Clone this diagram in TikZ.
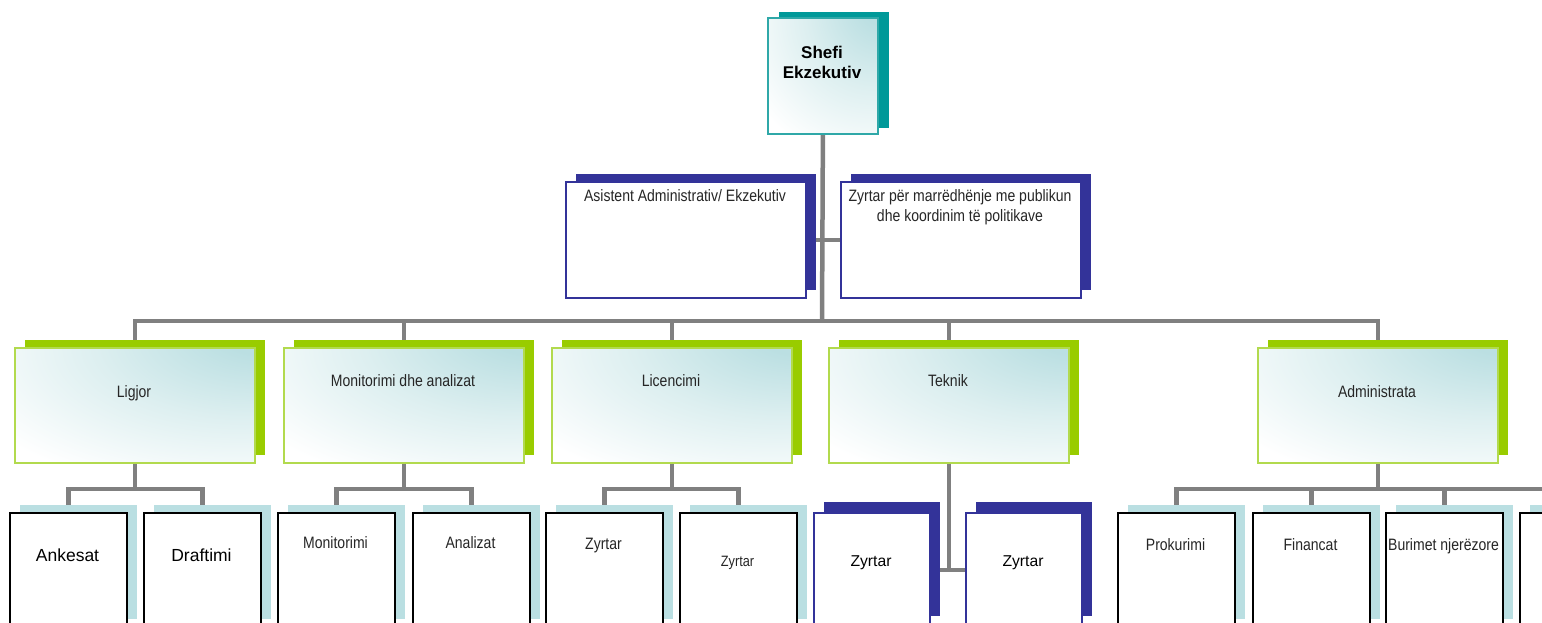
\documentclass[tikz,border=0pt]{standalone}
\usepackage{fontspec}
\setmainfont{Liberation Sans}
\newfontfamily\narrowsans[FakeStretch=0.85]{Liberation Sans}
\usetikzlibrary{shadows,backgrounds}
\definecolor{connC}{HTML}{808080}
\definecolor{tealC}{HTML}{009999}
\definecolor{tealB}{HTML}{2FA8A8}
\definecolor{blueC}{HTML}{333399}
\definecolor{greenC}{HTML}{99CC00}
\definecolor{greenB}{HTML}{B2DA4E}
\definecolor{cyanS}{HTML}{BADFE2}
\definecolor{gradC}{HTML}{BBDFE2}
\definecolor{gradM}{HTML}{DDEFF0}
\pgfdeclareradialshading{cornerglow}{\pgfpoint{30bp}{34bp}}{%
  color(0bp)=(gradC); color(10bp)=(gradC); color(32bp)=(gradM); color(58bp)=(white); color(150bp)=(white)}
\tikzset{
  box/.style={rectangle, inner sep=0pt, anchor=north west},
  grad/.style={shade, shading=cornerglow},
  ceobox/.style={box, grad, draw=tealB, line width=1.8pt, minimum width=110, minimum height=116,
    drop shadow={shadow xshift=11pt, shadow yshift=6pt, opacity=1, fill=tealC}},
  asstbox/.style={box, fill=white, draw=blueC, line width=1.6pt, minimum width=240, minimum height=116,
    drop shadow={shadow xshift=10pt, shadow yshift=8pt, opacity=1, fill=blueC}},
  deptbox/.style={box, grad, draw=greenB, line width=1.9pt, minimum width=240, minimum height=115,
    drop shadow={shadow xshift=10pt, shadow yshift=8pt, opacity=1, fill=greenC}},
  leafbox/.style={box, fill=white, draw=black, line width=1.8pt, minimum width=117, minimum height=114,
    drop shadow={shadow xshift=10pt, shadow yshift=8pt, opacity=1, fill=cyanS}},
  techbox/.style={box, fill=white, draw=blueC, line width=1.6pt, minimum width=116, minimum height=114,
    drop shadow={shadow xshift=10pt, shadow yshift=11pt, opacity=1, fill=blueC}},
  conn/.style={draw=connC, line width=4.5pt},
  lbl/.style={anchor=base, inner sep=0pt, text=black!85, font=\narrowsans\fontsize{16.5}{20}\selectfont, align=center},
  lblsmall/.style={lbl, font=\narrowsans\fontsize{15}{18}\selectfont},
  lblreg/.style={anchor=base, inner sep=0pt, font=\fontsize{17.5}{21}\selectfont},
  lbltech/.style={anchor=base, inner sep=0pt, font=\fontsize{15.7}{19}\selectfont},
  lblceo/.style={anchor=base, inner sep=0pt, align=center, font=\bfseries\fontsize{17}{20.5}\selectfont},
}
\begin{document}
\begin{tikzpicture}[x=1pt, y=-1pt]
\useasboundingbox (0,0) rectangle (1542,623);

% top
\node[ceobox] (ceo) at (767,17) {};
\node[lblceo] (ceoT) at (822,79) {Shefi\\Ekzekutiv};

% staff
\node[asstbox] (asst) at (565,181) {};
\node[lbl] (asstT) at (685,201) {Asistent Administrativ/ Ekzekutiv};
\node[asstbox] (pr) at (840,181) {};
\node[lbl] (prT) at (960,221) {Zyrtar për marrëdhënje me publikun\\dhe koordinim të politikave};

% departments
\node[deptbox] (lig) at (14,347) {};
\node[lbl] (ligT) at (134,397) {Ligjor};
\node[deptbox] (mon) at (283,347) {};
\node[lbl] (monT) at (403,386) {Monitorimi dhe analizat};
\node[deptbox] (lic) at (551,347) {};
\node[lbl] (licT) at (671,386) {Licencimi};
\node[deptbox] (tek) at (828,347) {};
\node[lbl] (tekT) at (948,386) {Teknik};
\node[deptbox] (adm) at (1257,347) {};
\node[lbl] (admT) at (1377,397) {Administrata};

% units
\node[leafbox] (ank) at (9,512) {};
\node[lblreg] (ankT) at (67.5,561) {Ankesat};
\node[leafbox] (dra) at (143,512) {};
\node[lblreg] (draT) at (201.5,561) {Draftimi};
\node[leafbox] (mni) at (277,512) {};
\node[lbl] (mniT) at (335.5,548) {Monitorimi};
\node[leafbox] (ana) at (412,512) {};
\node[lbl] (anaT) at (470.5,548) {Analizat};
\node[leafbox] (zy1) at (545,512) {};
\node[lbl] (zy1T) at (603.5,549) {Zyrtar};
\node[leafbox] (zy2) at (679,512) {};
\node[lblsmall] (zy2T) at (737.5,566) {Zyrtar};
\node[techbox] (tz1) at (813,512) {};
\node[lbltech] (tz1T) at (871,566) {Zyrtar};
\node[techbox] (tz2) at (965,512) {};
\node[lbltech] (tz2T) at (1023,566) {Zyrtar};
\node[leafbox] (pro) at (1117,512) {};
\node[lbl] (proT) at (1175.5,550) {Prokurimi};
\node[leafbox] (fin) at (1252,512) {};
\node[lbl] (finT) at (1310.5,550) {Financat};
\node[leafbox] (bur) at (1385,512) {};
\node[lbl] (burT) at (1443.5,550) {Burimet njerëzore};
\node[leafbox] (oth) at (1519,512) {};

% connectors
\begin{scope}[on background layer]
\coordinate (bus) at (822,321);
\draw[conn] (ceo.south) -- (bus);
\draw[conn] (asst.east) -- (pr.west);
\foreach \d in {lig,mon,lic,tek,adm}{\draw[conn] (\d.north) |- (bus);}
\draw[conn] (lig.south) -- ++(0,25) -| (ank.north);
\draw[conn] (lig.south) -- ++(0,25) -| (dra.north);
\draw[conn] (mon.south) -- ++(0,25) -| (mni.north);
\draw[conn] (mon.south) -- ++(0,25) -| (ana.north);
\draw[conn] (lic.south) -- ++(0,25) -| (zy1.north);
\draw[conn] (lic.south) -- ++(0,25) -| (zy2.north);
\draw[conn] (tek.south) |- (tz1.east);
\draw[conn] (tek.south) |- (tz2.west);
\foreach \u in {pro,fin,bur,oth}{\draw[conn] (adm.south) -- ++(0,25) -| (\u.north);}
\end{scope}
\end{tikzpicture}
\end{document}
